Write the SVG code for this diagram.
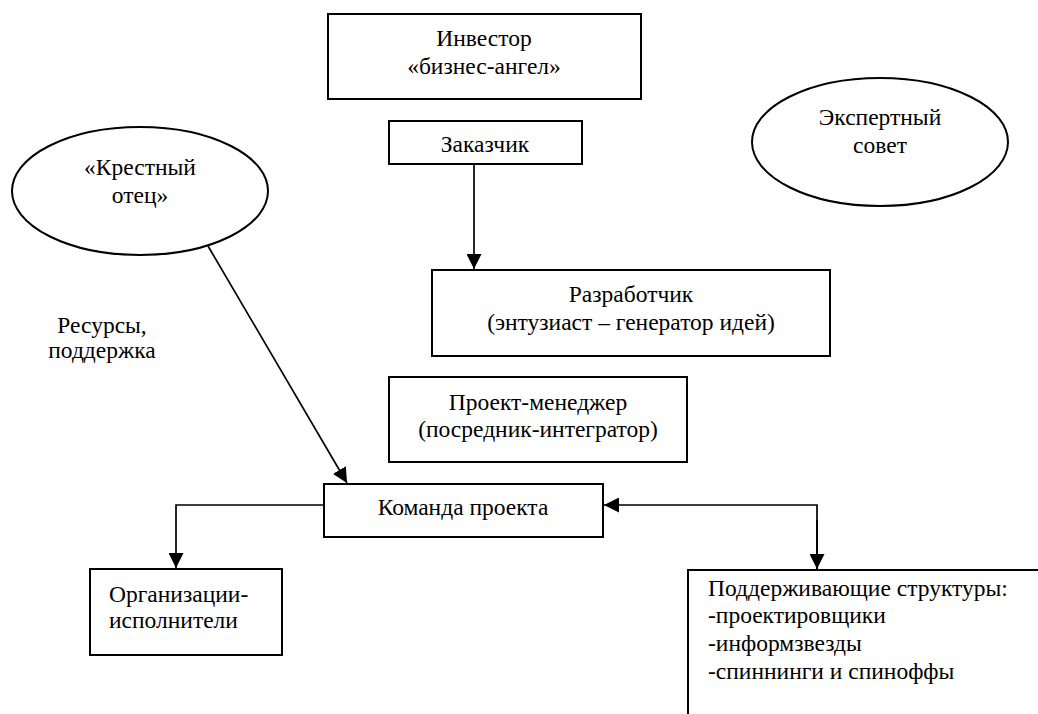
<svg xmlns="http://www.w3.org/2000/svg" width="1038" height="714" viewBox="0 0 1038 714">
<style>
.box{fill:#fff;stroke:#000;stroke-width:2}
.ell{fill:#fff;stroke:#000;stroke-width:2}
.c{text-anchor:middle}
.ln{fill:none;stroke:#000;stroke-width:1.7}
</style>
<defs>
<marker id="ah" viewBox="0 0 15 15" refX="15" refY="7.5" markerWidth="15" markerHeight="15" markerUnits="userSpaceOnUse" orient="auto">
<path d="M0,0 L15,7.5 L0,15 Z" fill="#000"/>
</marker>
</defs>
<rect width="1038" height="714" fill="#fff"/>
<g font-family="Liberation Serif, Times New Roman, serif" font-size="23.5" fill="#000">
<g id="investor">
<rect class="box" x="328" y="14" width="313" height="85"/>
<text class="c" x="484" y="46">Инвестор</text>
<text class="c" x="484" y="74">«бизнес-ангел»</text>
</g>
<g id="customer">
<rect class="box" x="389" y="121" width="193" height="43"/>
<text class="c" x="485" y="152">Заказчик</text>
</g>
<g id="godfather">
<ellipse class="ell" cx="140" cy="191" rx="128" ry="64"/>
<text class="c" x="140" y="175">«Крестный</text>
<text class="c" x="140" y="203">отец»</text>
</g>
<g id="experts">
<ellipse class="ell" cx="880" cy="142" rx="128" ry="64"/>
<text class="c" x="880" y="125">Экспертный</text>
<text class="c" x="880" y="153">совет</text>
</g>
<g id="resources-label">
<text class="c" x="102" y="333">Ресурсы,</text>
<text class="c" x="102" y="358">поддержка</text>
</g>
<g id="developer">
<rect class="box" x="432" y="270" width="398" height="86"/>
<text class="c" x="631" y="302">Разработчик</text>
<text class="c" x="631" y="330">(энтузиаст – генератор идей)</text>
</g>
<g id="pm">
<rect class="box" x="389" y="377" width="298" height="85"/>
<text class="c" x="538" y="410">Проект-менеджер</text>
<text class="c" x="538" y="437">(посредник-интегратор)</text>
</g>
<g id="team">
<rect class="box" x="324" y="484" width="279" height="53"/>
<text class="c" x="463" y="515">Команда проекта</text>
</g>
<g id="orgs">
<rect class="box" x="90" y="569" width="192" height="86"/>
<text x="109" y="602">Организации-</text>
<text x="109" y="628">исполнители</text>
</g>
<g id="support">
<rect class="box" x="688" y="570" width="360" height="160"/>
<text x="708" y="596">Поддерживающие структуры:</text>
<text x="708" y="623">-проектировщики</text>
<text x="708" y="651">-информзвезды</text>
<text x="708" y="679">-спиннинги и спиноффы</text>
</g>
</g>
<g id="connectors">
<line class="ln" x1="474" y1="164" x2="474" y2="269" marker-end="url(#ah)"/>
<line class="ln" x1="208" y1="246" x2="347" y2="483" marker-end="url(#ah)"/>
<polyline class="ln" points="324,505 176,505 176,568" marker-end="url(#ah)"/>
<polyline class="ln" points="817,569 817,505 604,505" marker-end="url(#ah)"/>
<line class="ln" x1="817" y1="520" x2="817" y2="569" marker-end="url(#ah)"/>
</g>
</svg>
